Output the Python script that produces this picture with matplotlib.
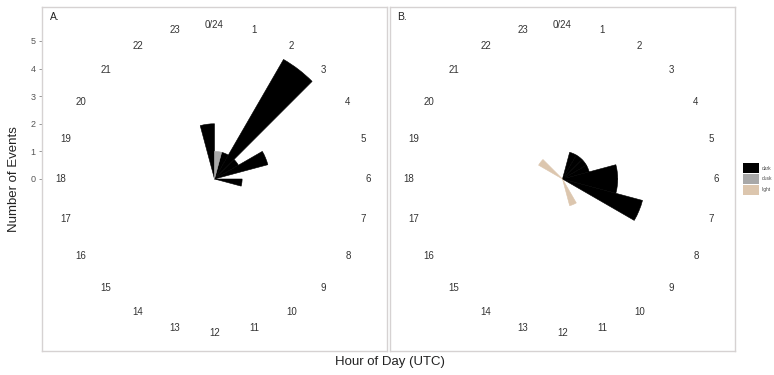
import numpy as np
import matplotlib
matplotlib.use("Agg")
import matplotlib.pyplot as plt
from matplotlib.patches import Patch

plt.rcParams['font.family'] = ['Liberation Sans', 'DejaVu Sans']

# Hour-of-day bins (UTC), event counts per light condition
hours = list(range(24))
categories = ["dark", "dusk", "light"]
colors = {"dark": "#000000", "dusk": "#A8A8A8", "light": "#DCC6AE"}

panel_a = {
    "dark":  [0, 1, 5, 1, 2, 0, 1, 0, 0, 0, 0, 0, 0, 0, 0, 0, 0, 0, 0, 0, 0, 0, 0, 2],
    "dusk":  [1, 0, 0, 0, 0, 0, 0, 0, 0, 0, 0, 0, 0, 0, 0, 0, 0, 0, 0, 0, 0, 0, 0, 0],
    "light": [0] * 24,
}
panel_b = {
    "dark":  [0, 1, 1, 1, 1, 2, 2, 3, 0, 0, 0, 0, 0, 0, 0, 0, 0, 0, 0, 0, 0, 0, 0, 0],
    "dusk":  [0] * 24,
    "light": [0, 0, 0, 0, 0, 0, 0, 0, 0, 0, 1, 0, 0, 0, 0, 0, 0, 0, 0, 0, 1, 0, 0, 0],
}
hour_labels = ["0/24"] + [str(h) for h in range(1, 24)]
y_ticks = [0, 1, 2, 3, 4, 5]

W, H = 774, 375
fig = plt.figure(figsize=(W / 100, H / 100), dpi=100)

R = 6.23          # radial extent shown inside each panel
R_LABEL = 5.58    # radius of the hour labels

panels = [("A.", panel_a, 42), ("B.", panel_b, 390)]
pw, ph, pb = 345, 344, 24

for i, (tag, data, left) in enumerate(panels):
    rect = [left / W, pb / H, pw / W, ph / H]

    frame = fig.add_axes(rect)
    frame.set_xlim(-R, R)
    frame.set_ylim(-R, R)
    frame.set_xticks([])
    for s in frame.spines.values():
        s.set_color("#D6D2D2")
        s.set_linewidth(1.0)
    if i == 0:
        frame.set_yticks(y_ticks)
        frame.set_yticklabels([str(t) for t in y_ticks], fontsize=6.5, color="#555555")
        frame.tick_params(axis="y", length=2.5, width=0.6, color="#888888", pad=2)
        frame.set_ylabel("Number of Events", fontsize=9.5, color="#222222", labelpad=8)
    else:
        frame.set_yticks([])
    frame.text(0.022, 0.985, tag, transform=frame.transAxes, ha="left", va="top",
               fontsize=7.5, color="#222222")

    ax = fig.add_axes(rect, projection="polar")
    ax.set_theta_zero_location("N")
    ax.set_theta_direction(-1)
    ax.set_rlim(0, R)
    ax.patch.set_alpha(0)

    theta = np.array(hours) / 24 * 2 * np.pi
    width = 2 * np.pi / 24
    bottom = np.zeros(24)
    for cat in categories:
        vals = np.array(data[cat], dtype=float)
        nz = vals > 0
        if nz.any():
            ax.bar(theta[nz], vals[nz], width=width, bottom=bottom[nz], align="edge",
                   color=colors[cat], edgecolor=colors[cat], linewidth=0.4)
        bottom += vals

    for h, lab in zip(hours, hour_labels):
        ax.text(h / 24 * 2 * np.pi, R_LABEL, lab, ha="center", va="center",
                fontsize=7, color="#333333")
    ax.axis("off")

fig.text(390 / W, 1 - 362 / H, "Hour of Day (UTC)", ha="center", va="center",
         fontsize=9.5, color="#222222")

handles = [Patch(facecolor=colors[c], edgecolor="none", label=c) for c in categories]
fig.legend(handles=handles, loc="center left", bbox_to_anchor=(741 / W, 1 - 179 / H),
           fontsize=3.5, frameon=False, handlelength=3.3, handleheight=3.0,
           labelspacing=0.05, borderpad=0, handletextpad=0.5, labelcolor="#444444")

fig.savefig("out.png", dpi=100)
